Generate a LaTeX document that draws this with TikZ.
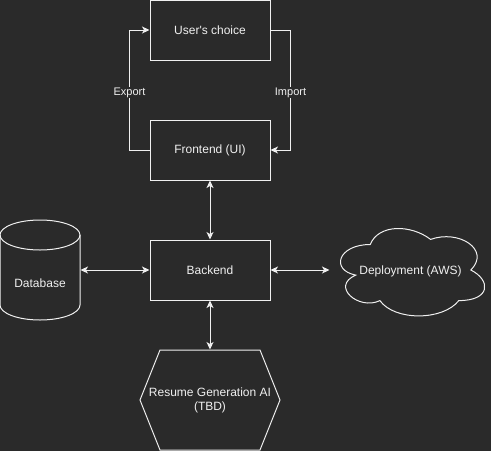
\documentclass[tikz,border=0pt]{standalone}
\usepackage{fontspec}
\setmainfont{Liberation Sans}
\usetikzlibrary{arrows.meta}
\definecolor{bg}{HTML}{2A2A2A}
\definecolor{fg}{HTML}{F0F0F0}
\begin{document}
\begin{tikzpicture}[x=1pt,y=-1pt,line width=1pt,
  tip/.tip={Stealth[length=7.5pt,width=7pt,inset=2pt]},
  box/.style={draw=fg,minimum width=120pt,minimum height=60pt,inner sep=0pt,text=fg,font=\fontsize{12}{14}\selectfont},
  txt/.style={inner sep=0pt,text=fg,font=\fontsize{12}{14}\selectfont,align=center},
  lbl/.style={fill=bg,inner sep=1pt,text=fg,font=\fontsize{11}{13}\selectfont},
  conn/.style={draw=fg,-{tip}},
  bconn/.style={draw=fg,{tip}-{tip}}]
\fill[bg] (0,0) rectangle (491,451);
\useasboundingbox (0,0) rectangle (491,451);

\node[box] (uc) at (210,30) {User\textquotesingle s choice};
\node[box] (fe) at (210,150) {Frontend (UI)};
\node[box] (be) at (210,270) {Backend};

% database cylinder
\node[minimum width=80pt,minimum height=100pt,inner sep=0pt] (db) at (40,270) {};
\draw[fg] (40,235) ellipse [x radius=40, y radius=15];
\draw[fg] (0,235) -- (0,305) .. controls (0,313.28) and (17.9,320) .. (40,320)
  .. controls (62.1,320) and (80,313.28) .. (80,305) -- (80,235);
\node[txt] (dbl) at (40,283) {Database};

% cloud
\node[minimum width=161pt,minimum height=102pt,inner sep=0pt] (cl) at (410.5,270) {};
\draw[fg] (370.25,244.5) .. controls (338.05,244.5) and (330,270) .. (355.76,275.1)
  .. controls (330,286.32) and (358.98,310.8) .. (379.91,300.6)
  .. controls (394.4,321) and (442.7,321) .. (458.8,300.6)
  .. controls (491,300.6) and (491,280.2) .. (470.875,270)
  .. controls (491,249.6) and (458.8,229.2) .. (430.625,239.4)
  .. controls (410.5,224.1) and (378.3,224.1) .. (370.25,244.5) -- cycle;
\node[txt] (cll) at (410.5,271) {Deployment (AWS)};

% hexagon
\node[minimum width=140pt,minimum height=100pt,inner sep=0pt] (ai) at (210,400) {};
\draw[fg] (160,350) -- (260,350) -- (280,400) -- (260,450) -- (160,450) -- (140,400) -- cycle;
\node[txt] (ail) at (210,400.5) {Resume Generation AI\\(TBD)};

% connectors
\draw[conn] (fe.west) -- ++(-20,0) |- node[lbl,pos=0.25,yshift=-2.5pt] {Export} (uc.west);
\draw[conn] (uc.east) -- ++(20,0) |- node[lbl,pos=0.25,yshift=-2.5pt] {Import} (fe.east);
\draw[bconn] (fe.south) -- (be.north);
\draw[bconn] (db.east) -- (be.west);
\draw[bconn] (be.east) -- (cl.west);
\draw[bconn] (be.south) -- (ai.north);
\end{tikzpicture}
\end{document}
